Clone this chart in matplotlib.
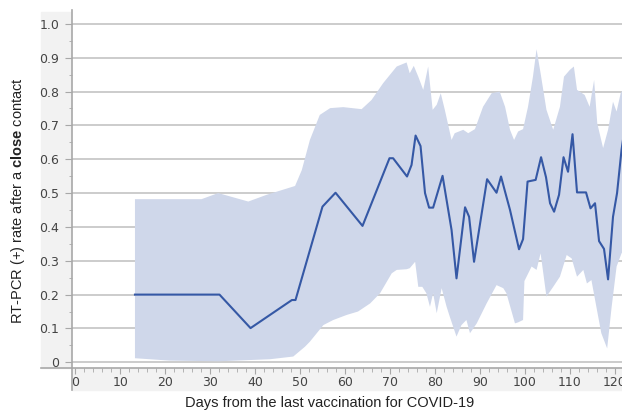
import numpy as np
import matplotlib
matplotlib.use("Agg")
import matplotlib.pyplot as plt
from matplotlib.patches import Rectangle
from matplotlib.lines import Line2D
from matplotlib.ticker import MultipleLocator

# rate of RT-PCR (+) after a close contact
days = [13.3, 32.1, 39.0, 48.2, 49.0, 55.0, 57.9, 63.9, 69.9, 70.7, 73.8, 74.8,
        75.7, 76.8, 77.8, 78.7, 79.6, 81.7, 83.7, 84.8, 86.7, 87.6, 88.7, 91.6,
        93.7, 94.7, 95.6, 96.7, 98.7, 99.6, 100.6, 102.4, 103.6, 104.7, 105.6,
        106.5, 107.6, 108.6, 109.6, 110.6, 111.6, 113.6, 114.6, 115.6, 116.5,
        117.6, 118.5, 119.6, 120.5, 121.5, 122.5]
rate = [0.20, 0.20, 0.101, 0.184, 0.184, 0.46, 0.501, 0.403, 0.603, 0.603, 0.549,
        0.583, 0.670, 0.639, 0.50, 0.457, 0.457, 0.551, 0.391, 0.248, 0.458, 0.43,
        0.297, 0.541, 0.501, 0.549, 0.504, 0.45, 0.334, 0.364, 0.534, 0.539, 0.606,
        0.547, 0.47, 0.445, 0.495, 0.606, 0.563, 0.674, 0.502, 0.502, 0.455, 0.47,
        0.358, 0.335, 0.245, 0.43, 0.50, 0.628, 0.72]

# upper bound of the confidence band
up_days = [13.3, 28.1, 31.8, 38.5, 42.6, 48.9, 50.4, 52.2, 54.4, 56.7, 59.6, 63.7,
           65.9, 68.5, 71.5, 73.7, 74.4, 75.3, 76.3, 77.4, 78.5, 79.5, 80.4, 81.3,
           82.2, 83.7, 84.4, 86.3, 87.4, 88.9, 90.7, 92.6, 94.4, 95.6, 96.7, 97.6,
           98.5, 99.6, 100.7, 101.8, 102.6, 103.5, 104.8, 106.3, 107.8, 108.7,
           110.0, 110.9, 111.6, 113.3, 114.4, 115.4, 116.1, 117.4, 118.5, 119.6,
           120.4, 121.3, 122.5]
up_val = [0.482, 0.482, 0.50, 0.475, 0.495, 0.521, 0.568, 0.657, 0.731, 0.751,
          0.754, 0.748, 0.775, 0.825, 0.874, 0.886, 0.854, 0.876, 0.844, 0.805,
          0.874, 0.746, 0.761, 0.795, 0.746, 0.657, 0.677, 0.687, 0.677, 0.689,
          0.755, 0.795, 0.80, 0.755, 0.687, 0.657, 0.682, 0.689, 0.755, 0.844,
          0.925, 0.854, 0.746, 0.687, 0.755, 0.844, 0.864, 0.874, 0.805, 0.79,
          0.755, 0.834, 0.706, 0.633, 0.687, 0.77, 0.741, 0.795, 0.82]

# lower bound of the confidence band
lo_days = [13.3, 21.0, 32.0, 43.3, 48.5, 51.1, 52.2, 55.2, 57.4, 60.4, 62.9, 65.6,
           67.8, 70.4, 71.5, 73.7, 74.4, 75.6, 76.3, 77.2, 78.1, 78.9, 79.6, 80.4,
           81.5, 82.6, 83.3, 84.8, 85.9, 87.0, 87.8, 89.3, 91.5, 93.7, 95.2, 95.9,
           97.8, 98.5, 99.6, 99.9, 101.5, 102.6, 103.5, 104.1, 104.8, 106.3, 107.8,
           109.3, 110.4, 111.6, 113.0, 113.8, 114.8, 115.9, 117.0, 118.3, 119.3,
           120.4, 121.5, 122.5]
lo_val = [0.012, 0.005, 0.003, 0.009, 0.017, 0.046, 0.061, 0.11, 0.125, 0.14,
          0.15, 0.174, 0.204, 0.263, 0.273, 0.275, 0.278, 0.297, 0.223, 0.223,
          0.204, 0.164, 0.204, 0.145, 0.219, 0.164, 0.135, 0.076, 0.110, 0.125,
          0.086, 0.115, 0.174, 0.228, 0.219, 0.204, 0.115, 0.118, 0.125, 0.24,
          0.283, 0.273, 0.322, 0.263, 0.194, 0.223, 0.253, 0.317, 0.307, 0.253,
          0.273, 0.233, 0.243, 0.164, 0.086, 0.041, 0.164, 0.283, 0.322, 0.34]

plt.rcParams["mathtext.fontset"] = "custom"
plt.rcParams["mathtext.rm"] = "Liberation Sans"
plt.rcParams["mathtext.bf"] = "Liberation Sans:bold"

W, H = 622, 411
fig = plt.figure(figsize=(6.22, 4.11), dpi=100)
ax = fig.add_axes([72 / W, 1 - 367.5 / H, 550 / W, 357.5 / H])

# grey bands behind the tick labels, and the extended axis lines
fig.patches.append(Rectangle((41 / W, 1 - 367.5 / H), 31 / W, 355 / H,
                             transform=fig.transFigure, color="#f2f2f2", zorder=-5))
fig.patches.append(Rectangle((72 / W, 1 - 390 / H), 550 / W, 22.5 / H,
                             transform=fig.transFigure, color="#f2f2f2", zorder=-5))
fig.lines.append(Line2D([41 / W, 72 / W], [1 - 367.5 / H] * 2, transform=fig.transFigure,
                        color="#a8a8a8", lw=1.2))
fig.lines.append(Line2D([72 / W] * 2, [1 - 367.5 / H, 1 - 390 / H], transform=fig.transFigure,
                        color="#a8a8a8", lw=1.2))

poly_x = np.concatenate([up_days, lo_days[::-1]])
poly_y = np.concatenate([up_val, lo_val[::-1]])
ax.fill(poly_x, poly_y, color="#cfd7ea", lw=0, zorder=1)
ax.plot(days, rate, color="#3558a5", lw=1.5, zorder=3)

ax.set_xlim(-0.7, 121.6)
ax.set_ylim(-0.0154, 1.041)

ax.yaxis.set_major_locator(MultipleLocator(0.1))
ax.yaxis.set_minor_locator(MultipleLocator(0.05))
ax.xaxis.set_major_locator(MultipleLocator(10))
ax.xaxis.set_minor_locator(MultipleLocator(2))
ax.grid(axis="y", color="#c4c4c4", lw=1.2, zorder=0)
ax.set_axisbelow(True)

ax.spines["top"].set_visible(False)
ax.spines["right"].set_visible(False)
for s in ("left", "bottom"):
    ax.spines[s].set_color("#a8a8a8")
    ax.spines[s].set_linewidth(1.2)

ax.tick_params(axis="both", which="both", colors="#a8a8a8", labelcolor="#444444",
               labelsize=9)
ax.tick_params(axis="y", which="major", length=5, pad=4)
ax.tick_params(axis="y", which="minor", length=2)
ax.tick_params(axis="x", which="major", length=4, pad=2)
ax.tick_params(axis="x", which="minor", length=3)

yt = np.arange(0, 11) / 10
ax.set_yticks(yt)
ax.set_yticklabels(["0"] + ["%.1f" % v for v in yt[1:]])

fig.text(330 / W, 1 - 403 / H, "Days from the last vaccination for COVID-19",
         ha="center", va="center", fontsize=10.5, family="Liberation Sans",
         color="#222222")
fig.text(18.5 / W, 1 - 200 / H, r"RT-PCR (+) rate after a $\bf{close}$ contact",
         rotation=90, ha="center", va="center", fontsize=10.5,
         family="Liberation Sans", color="#222222")

fig.savefig("out.png", dpi=100)
